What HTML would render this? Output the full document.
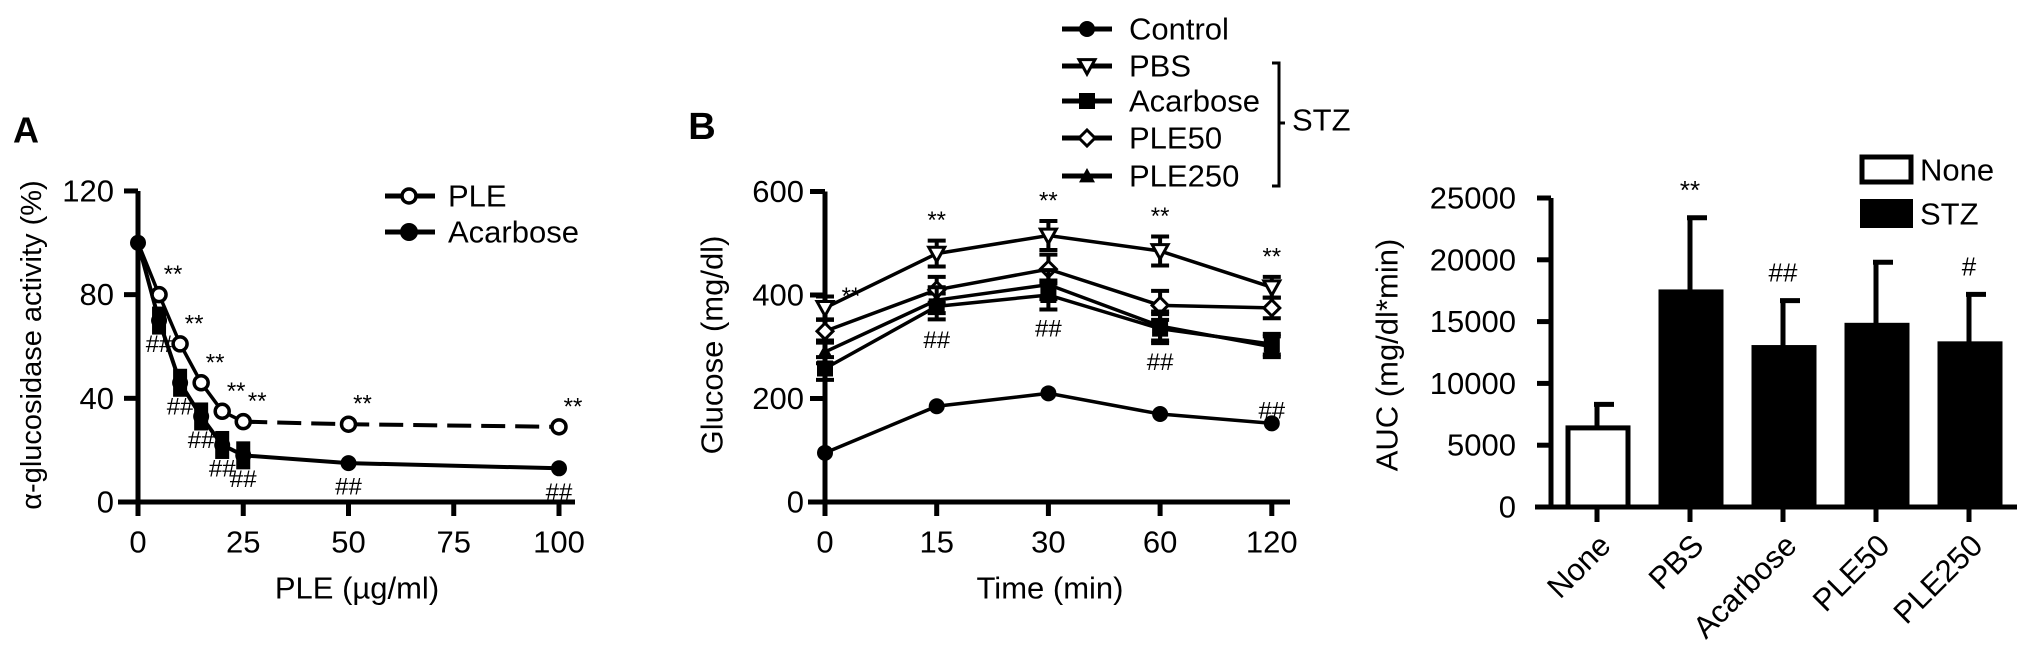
<!DOCTYPE html>
<html><head><meta charset="utf-8"><style>
html,body{margin:0;padding:0;background:#fff}
svg{display:block;font-family:"Liberation Sans",Arial,sans-serif}
</style></head><body>
<svg id="fig" width="2031" height="659" viewBox="0 0 2031 659" xmlns="http://www.w3.org/2000/svg"></svg>
<script>
// ===== Panel A data =====
const aDose = [0, 5, 10, 15, 20, 25, 50, 100];
const aPLE = [100, 80, 61, 46, 35, 31, 30, 29];
const aAcarbose = [100, 70, 46, 33, 22, 18, 15, 13];
const aYTicks = [0, 40, 80, 120];
const aXTicks = [0, 25, 50, 75, 100];
// ===== Panel B data =====
const bTimes = ['0', '15', '30', '60', '120'];
const bControl = [95, 185, 210, 170, 152];
const bPBS = [375, 480, 515, 485, 415];
const bAcarbose = [258, 378, 400, 335, 305];
const bPLE50 = [330, 410, 450, 380, 375];
const bPLE250 = [290, 390, 420, 340, 300];
const bErr = [22, 25, 28, 28, 20];
const bYTicks = [0, 200, 400, 600];
// ===== Panel C data =====
const cGroups = ['None', 'PBS', 'Acarbose', 'PLE50', 'PLE250'];
const cMeans = [6400, 17400, 12900, 14700, 13200];
const cErrUp = [8300, 23400, 16700, 19800, 17200];
const cYTicks = [0, 5000, 10000, 15000, 20000, 25000];
const cSig = ['', '**', '##', '', '#'];

const NS = 'http://www.w3.org/2000/svg';
const svg = document.getElementById('fig');
function mk(tag, attrs, parent) {
  const e = document.createElementNS(NS, tag);
  for (const k in attrs) e.setAttribute(k, attrs[k]);
  (parent || svg).appendChild(e);
  return e;
}
function txt(s, x, y, size, parent, anchor, weight) {
  const t = mk('text', {x: x, y: y, 'font-size': size, 'text-anchor': anchor || 'middle', 'dominant-baseline': 'central', fill: '#000'}, parent);
  if (weight) t.setAttribute('font-weight', weight);
  t.textContent = s;
  return t;
}
function marker(shape, x, y, r, parent) {
  let m;
  if (shape === 'circleFilled') m = mk('circle', {cx: x, cy: y, r: r, fill: '#000'}, parent);
  else if (shape === 'circleOpen') m = mk('circle', {cx: x, cy: y, r: r, fill: '#fff', stroke: '#000', 'stroke-width': 3.5}, parent);
  else if (shape === 'square') m = mk('rect', {x: x - r, y: y - r, width: 2 * r, height: 2 * r, fill: '#000'}, parent);
  else if (shape === 'triDown') m = mk('polygon', {points: `${x - r},${y - r * 0.8} ${x + r},${y - r * 0.8} ${x},${y + r}`, fill: '#fff', stroke: '#000', 'stroke-width': 3}, parent);
  else if (shape === 'triUp') m = mk('polygon', {points: `${x - r},${y + r * 0.8} ${x + r},${y + r * 0.8} ${x},${y - r}`, fill: '#000'}, parent);
  else if (shape === 'diamond') m = mk('polygon', {points: `${x},${y - r} ${x + r},${y} ${x},${y + r} ${x - r},${y}`, fill: '#fff', stroke: '#000', 'stroke-width': 3}, parent);
  return m;
}

// ================= Panel A =================
const gA = mk('g', {});


const aX = v => 138 + v * 4.21;
const aY = v => 502 - v * 2.592;
let t = txt('A', 26, 130, 36, gA, 'middle', 'bold');
 
mk('line', {x1: 138, y1: aY(120), x2: 138, y2: 505, stroke: '#000', 'stroke-width': 5}, gA);
mk('line', {x1: 118, y1: 502, x2: 575, y2: 502, stroke: '#000', 'stroke-width': 5}, gA);
aYTicks.forEach(v => {
  mk('line', {x1: 124, y1: aY(v), x2: 138, y2: aY(v), stroke: '#000', 'stroke-width': 5}, gA);
  const l = txt(String(v), 114, aY(v), 31, gA, 'end');
   
});
aXTicks.forEach(v => {
  mk('line', {x1: aX(v), y1: 502, x2: aX(v), y2: 516, stroke: '#000', 'stroke-width': 5}, gA);
  const l = txt(String(v), aX(v), 542, 31, gA);
   
});
t = txt('PLE (µg/ml)', 357, 588, 31, gA);
 
t = txt('α-glucosidase activity (%)', 0, 0, 29, gA);
t.setAttribute('transform', 'translate(32,345) rotate(-90)');
 
// PLE line dashed
let ptsP = aDose.map((d, i) => `${aX(d)},${aY(aPLE[i])}`);
let pl = mk('polyline', {points: ptsP.slice(0, 6).join(' '), fill: 'none', stroke: '#000', 'stroke-width': 3.5}, gA);
 
pl = mk('polyline', {points: ptsP.slice(5).join(' '), fill: 'none', stroke: '#000', 'stroke-width': 4, 'stroke-dasharray': '24 10'}, gA);
 
pl = mk('polyline', {points: aDose.map((d, i) => `${aX(d)},${aY(aAcarbose[i])}`).join(' '), fill: 'none', stroke: '#000', 'stroke-width': 4}, gA);
 
aDose.forEach((d, i) => {
  if (i > 0 && i < 6) mk('rect', {x: aX(d) - 7, y: aY(aAcarbose[i]) - 14, width: 14, height: 28, fill: '#000'}, gA);
  const m = marker('circleFilled', aX(d), aY(aAcarbose[i]), 8, gA);
   
  if (i > 0) {
    const s = txt('##', aX(d), aY(aAcarbose[i]) + 24, 24, gA);
     
  }
});
aDose.forEach((d, i) => {
  if (i === 0) return;
  const m = marker('circleOpen', aX(d), aY(aPLE[i]), 7, gA);
   
  const s = txt('**', aX(d) + 14, aY(aPLE[i]) - 20, 24, gA);
   
});
const legA = mk('g', {}, gA);
 
mk('line', {x1: 385, y1: 196, x2: 435, y2: 196, stroke: '#000', 'stroke-width': 5}, legA);
marker('circleOpen', 409, 196, 7, legA);
txt('PLE', 448, 196, 31, legA, 'start');
mk('line', {x1: 385, y1: 232, x2: 435, y2: 232, stroke: '#000', 'stroke-width': 5}, legA);
marker('circleFilled', 409, 232, 9, legA);
txt('Acarbose', 448, 232, 31, legA, 'start');

// ================= Panel B =================
const gB = mk('g', {});


const bX = i => 825 + i * 111.7;
const bY = v => 502 - v * 0.5175;
t = txt('B', 702, 127, 38, gB, 'middle', 'bold');
 
mk('line', {x1: 825, y1: bY(600), x2: 825, y2: 505, stroke: '#000', 'stroke-width': 5}, gB);
mk('line', {x1: 808, y1: 502, x2: 1290, y2: 502, stroke: '#000', 'stroke-width': 5}, gB);
bYTicks.forEach(v => {
  mk('line', {x1: 810, y1: bY(v), x2: 825, y2: bY(v), stroke: '#000', 'stroke-width': 5}, gB);
  const l = txt(String(v), 804, bY(v), 31, gB, 'end');
   
});
bTimes.forEach((s, i) => {
  mk('line', {x1: bX(i), y1: 502, x2: bX(i), y2: 516, stroke: '#000', 'stroke-width': 5}, gB);
  const l = txt(s, bX(i), 542, 31, gB);
   
});
t = txt('Time (min)', 1050, 588, 31, gB);
 
t = txt('Glucose (mg/dl)', 0, 0, 31, gB);
t.setAttribute('transform', 'translate(712,345) rotate(-90)');
 
const series = [
  {name: 'control', vals: bControl, shape: 'circleFilled', err: false},
  {name: 'pbs', vals: bPBS, shape: 'triDown', err: true},
  {name: 'acarbose', vals: bAcarbose, shape: 'square', err: true},
  {name: 'ple50', vals: bPLE50, shape: 'diamond', err: true},
  {name: 'ple250', vals: bPLE250, shape: 'triUp', err: true}
];
series.forEach(s => {
  const g = mk('g', {}, gB);
   
  mk('polyline', {points: s.vals.map((v, i) => `${bX(i)},${bY(v)}`).join(' '), fill: 'none', stroke: '#000', 'stroke-width': 3.5}, g);
  s.vals.forEach((v, i) => {
    if (s.err) {
      const e = bErr[i] * 0.5175;
      mk('line', {x1: bX(i), y1: bY(v) - e, x2: bX(i), y2: bY(v) + e, stroke: '#000', 'stroke-width': 4}, g);
      mk('line', {x1: bX(i) - 9, y1: bY(v) - e, x2: bX(i) + 9, y2: bY(v) - e, stroke: '#000', 'stroke-width': 4}, g);
      mk('line', {x1: bX(i) - 9, y1: bY(v) + e, x2: bX(i) + 9, y2: bY(v) + e, stroke: '#000', 'stroke-width': 4}, g);
    }
    const m = marker(s.shape, bX(i), bY(v), 8, g);
     
  });
});
bTimes.forEach((s, i) => {
  const dx = i === 0 ? 26 : 0;
  const a = txt('**', bX(i) + dx, bY(bPBS[i] + bErr[i]) - (i === 0 ? 0 : 20), 24, gB);
   
  if (i > 0) {
    const h = txt('##', bX(i), bY(Math.min(bAcarbose[i], bPLE250[i])) + 34 + (i === 4 ? 30 : 0), 24, gB);
     
  }
});
const legB = mk('g', {}, gB);
 
const legNames = ['Control', 'PBS', 'Acarbose', 'PLE50', 'PLE250'];
const legY = [29, 66, 101, 138, 176];
legNames.forEach((n, i) => {
  mk('line', {x1: 1062, y1: legY[i], x2: 1112, y2: legY[i], stroke: '#000', 'stroke-width': 5}, legB);
  marker(series[i].shape, 1087, legY[i], 8, legB);
  const l = txt(n, 1129, legY[i], 31, legB, 'start');
   
});
mk('path', {d: 'M1272,63 L1279,63 L1279,186 L1272,186 M1279,123 L1285,123', fill: 'none', stroke: '#000', 'stroke-width': 3}, legB);
t = txt('STZ', 1292, 120, 31, legB, 'start');
 

// ================= Panel C =================
const gC = mk('g', {});


const cX = i => 1597 + i * 93;
const cY = v => 507 - v * 0.01236;
mk('line', {x1: 1551, y1: cY(25000), x2: 1551, y2: 509, stroke: '#000', 'stroke-width': 5}, gC);
mk('line', {x1: 1535, y1: 507, x2: 2017, y2: 507, stroke: '#000', 'stroke-width': 5}, gC);
cYTicks.forEach(v => {
  mk('line', {x1: 1537, y1: cY(v), x2: 1551, y2: cY(v), stroke: '#000', 'stroke-width': 5}, gC);
  const l = txt(String(v), 1516, cY(v), 31, gC, 'end');
   
});
t = txt('AUC (mg/dl*min)', 0, 0, 31, gC);
t.setAttribute('transform', 'translate(1387,355) rotate(-90)');
 
cGroups.forEach((n, i) => {
  const x = cX(i);
  mk('line', {x1: x, y1: cY(cErrUp[i]), x2: x, y2: cY(cMeans[i]), stroke: '#000', 'stroke-width': 5}, gC);
  mk('line', {x1: x - 3, y1: cY(cErrUp[i]), x2: x + 17, y2: cY(cErrUp[i]), stroke: '#000', 'stroke-width': 5}, gC);
  const b = mk('rect', {x: x - 29, y: cY(cMeans[i]), width: 60, height: 507 - cY(cMeans[i]), fill: i === 0 ? '#fff' : '#000', stroke: '#000', 'stroke-width': 5}, gC);
   
  mk('line', {x1: x, y1: 507, x2: x, y2: 522, stroke: '#000', 'stroke-width': 5}, gC);
  const l = txt(n, 0, 0, 31, gC, 'end');
  l.setAttribute('transform', `translate(${x + 8},${540}) rotate(-45)`);
   
  if (cSig[i]) {
    const s = txt(cSig[i], x, cY(cErrUp[i]) - (i === 1 ? 28 : 28), cSig[i] === '**' ? 26 : 26, gC);
     
  }
});
const legC = mk('g', {}, gC);
 
mk('rect', {x: 1862, y: 157, width: 49, height: 25, fill: '#fff', stroke: '#000', 'stroke-width': 5}, legC);
t = txt('None', 1920, 170, 31, legC, 'start');
 
mk('rect', {x: 1860, y: 199, width: 53, height: 29, fill: '#000'}, legC);
t = txt('STZ', 1920, 214, 31, legC, 'start');
 
</script>
</body></html>
